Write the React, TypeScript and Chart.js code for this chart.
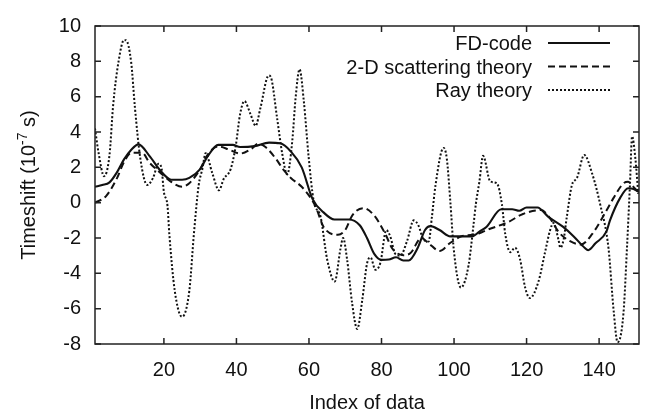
import { useEffect, useRef } from "react";
import { Chart, registerables } from "chart.js";

Chart.register(...registerables);

const FONT = "'Liberation Sans', Arial, Helvetica, sans-serif";
const INK = "#111111";

// FD-code timeshift
const fdIndex = [1, 3, 5, 7, 9, 11, 13, 16, 19, 21, 22, 25, 27, 30, 32, 35, 39, 41, 45, 49, 52, 55, 58, 61, 64, 67, 71, 74, 76, 78, 80, 82, 84, 86, 87.5, 90, 92, 93.5, 96, 99, 105, 107, 109, 113, 116, 118, 120, 123, 126, 130, 133, 136, 137, 139, 142, 143, 145.8, 148, 149.5, 151];
const fdShift = [0.9, 1.0, 1.15, 1.7, 2.45, 3.0, 3.3, 2.65, 1.82, 1.4, 1.3, 1.3, 1.4, 1.9, 2.6, 3.27, 3.27, 3.15, 3.2, 3.4, 3.36, 2.9, 2.0, 0.2, -0.55, -0.95, -0.95, -1.28, -2.0, -2.9, -3.24, -3.22, -3.09, -3.27, -3.27, -2.55, -1.55, -1.33, -1.55, -1.91, -1.91, -1.64, -1.36, -0.37, -0.37, -0.46, -0.27, -0.27, -0.8, -1.36, -1.91, -2.55, -2.69, -2.3, -1.64, -1.0, 0.27, 0.82, 0.78, 0.6];

// 2-D scattering theory timeshift
const scatIndex = [1, 4, 7, 9, 11, 14, 16, 19, 22, 25, 27, 30, 32, 35, 38, 41, 44, 46, 48, 51, 53, 55, 58, 61, 62, 64, 68, 70, 72, 75, 78, 81, 83, 86, 88, 91, 93, 96, 99, 102, 105, 107, 109, 115, 119, 124, 126, 129, 132, 135, 138, 142, 144, 146.7, 148, 149, 151];
const scatShift = [0.0, 0.36, 1.36, 2.3, 2.82, 2.82, 2.27, 1.7, 1.18, 0.9, 1.1, 1.9, 2.7, 3.18, 3.0, 2.78, 3.03, 3.33, 3.15, 2.45, 1.85, 1.4, 0.9, 0.1, -0.3, -1.36, -1.82, -1.55, -0.7, -0.31, -0.73, -1.75, -2.6, -2.97, -2.85, -2.0, -2.3, -2.73, -2.27, -1.91, -1.82, -1.73, -1.55, -1.09, -0.64, -0.42, -0.75, -1.7, -2.18, -2.37, -1.8, -0.46, 0.27, 1.09, 1.18, 1.0, 0.55];

// Ray theory timeshift
const rayIndex = [1, 2, 3.5, 5, 6, 7.5, 9, 9.5, 11, 12, 13.5, 15.4, 17, 18.5, 19.3, 20, 21, 21.5, 23, 25, 27, 28.3, 29.6, 30.6, 31.5, 33.3, 35.2, 36.5, 38.4, 39.8, 41, 42.2, 43.9, 45.3, 46.6, 48.9, 49.5, 51.2, 52.6, 54, 55.4, 56.3, 57.4, 58.6, 59.9, 61.3, 63.2, 65, 67.1, 68.7, 69.4, 70.5, 71.9, 73.3, 74.7, 76, 77, 78.3, 79.7, 81.3, 82.4, 83.8, 85.2, 87, 88.9, 90.2, 91.6, 93, 93.9, 94.9, 97.1, 98, 99, 99.9, 101.9, 104, 105.4, 106, 107, 108, 110, 111.8, 113.2, 114.1, 115.5, 116.8, 118.2, 119.6, 120.9, 123.3, 125.1, 126.5, 127.4, 128.8, 129.3, 130.2, 131.1, 132.5, 133.9, 135.9, 138, 140.3, 142.6, 144, 145.1, 146.7, 147.7, 148.5, 149.1, 150, 150.8];
const rayShift = [4.2, 2.8, 1.5, 2.7, 5.5, 8.0, 9.2, 9.2, 7.9, 5.4, 2.5, 1.0, 1.4, 2.2, 2.0, 0.6, -0.2, -1.8, -5.0, -6.46, -5.0, -1.7, 1.0, 1.9, 2.8, 1.7, 0.7, 1.35, 1.9, 3.2, 5.0, 5.75, 5.0, 4.35, 5.35, 7.2, 7.1, 4.8, 2.8, 1.6, 3.5, 5.9, 7.55, 5.7, 2.6, 0.1, -0.8, -3.2, -4.46, -2.6, -2.0, -3.2, -5.7, -7.15, -5.5, -3.45, -3.1, -3.8, -3.4, -1.55, -1.9, -2.9, -3.0, -2.2, -1.0, -1.3, -2.1, -2.2, -0.8, 1.0, 3.1, 2.5, 0.0, -2.6, -4.8, -3.55, -1.2, -0.1, 1.2, 2.65, 1.2, 1.1, -0.1, -1.75, -2.8, -2.55, -3.2, -4.8, -5.4, -4.45, -2.8, -1.55, -1.15, -2.1, -2.55, -2.1, -0.8, 1.0, 1.4, 2.7, 1.7, -0.1, -2.6, -6.1, -7.9, -6.3, -2.5, 1.0, 3.75, 2.5, 0.5];

const seriesLabels = ["FD-code", "2-D scattering theory", "Ray theory"];
const seriesDash = [[], [7, 4], [2, 2]];
const seriesWidth = [2.1, 2, 2];

const xTickValues = [20, 40, 60, 80, 100, 120, 140];
const xMin = 1;
const xMax = 151;
const yMin = -8;
const yMax = 10;
const yStep = 2;

const xTitle = "Index of data";
const yTitleParts = ["Timeshift (10", "-7", " s)"];

const toPoints = (xs: number[], ys: number[]) => xs.map((x, i) => ({ x, y: ys[i] }));

// Frame with inward ticks on all four sides, plus legend and axis titles.
const decorPlugin = {
  id: "decor",
  afterDraw(chart: any) {
    const { ctx, chartArea: a, scales } = chart;
    ctx.save();
    ctx.strokeStyle = "#222";
    ctx.lineWidth = 1.5;
    ctx.setLineDash([]);
    ctx.strokeRect(a.left, a.top, a.right - a.left, a.bottom - a.top);
    const len = 6;
    ctx.beginPath();
    scales.x.ticks.forEach((t: any) => {
      const px = scales.x.getPixelForValue(t.value);
      ctx.moveTo(px, a.bottom);
      ctx.lineTo(px, a.bottom - len);
      ctx.moveTo(px, a.top);
      ctx.lineTo(px, a.top + len);
    });
    scales.y.ticks.forEach((t: any) => {
      const py = scales.y.getPixelForValue(t.value);
      ctx.moveTo(a.left, py);
      ctx.lineTo(a.left + len, py);
      ctx.moveTo(a.right, py);
      ctx.lineTo(a.right - len, py);
    });
    ctx.stroke();

    // legend: right-aligned labels with line samples on the right
    ctx.font = `20px ${FONT}`;
    ctx.fillStyle = INK;
    ctx.textAlign = "right";
    ctx.textBaseline = "alphabetic";
    const textRight = a.right - 107;
    const sampleL = a.right - 91;
    const sampleR = a.right - 29;
    chart.data.datasets.forEach((ds: any, i: number) => {
      const base = a.top + 24 + i * 23.5;
      ctx.fillText(ds.label, textRight, base);
      ctx.strokeStyle = INK;
      ctx.lineWidth = ds.borderWidth;
      ctx.setLineDash(ds.borderDash);
      ctx.beginPath();
      ctx.moveTo(sampleL, base - 7);
      ctx.lineTo(sampleR, base - 7);
      ctx.stroke();
    });
    ctx.setLineDash([]);

    // x title
    ctx.textAlign = "center";
    ctx.font = `20px ${FONT}`;
    ctx.fillText(xTitle, (a.left + a.right) / 2, 409);

    // y title with superscript exponent
    const big = `20px ${FONT}`;
    const small = `14px ${FONT}`;
    ctx.font = big;
    const w0 = ctx.measureText(yTitleParts[0]).width;
    const w2 = ctx.measureText(yTitleParts[2]).width;
    ctx.font = small;
    const w1 = ctx.measureText(yTitleParts[1]).width;
    const total = w0 + w1 + w2;
    ctx.translate(35, (a.top + a.bottom) / 2);
    ctx.rotate(-Math.PI / 2);
    ctx.textAlign = "left";
    let x = -total / 2;
    ctx.font = big;
    ctx.fillText(yTitleParts[0], x, 0);
    x += w0;
    ctx.font = small;
    ctx.fillText(yTitleParts[1], x, -8);
    x += w1;
    ctx.font = big;
    ctx.fillText(yTitleParts[2], x, 0);
    ctx.restore();
  },
};

export default function App() {
  const canvasRef = useRef<HTMLCanvasElement | null>(null);

  useEffect(() => {
    const canvas = canvasRef.current;
    if (!canvas) return;
    const series = [
      toPoints(fdIndex, fdShift),
      toPoints(scatIndex, scatShift),
      toPoints(rayIndex, rayShift),
    ];
    const chart = new Chart(canvas, {
      type: "line",
      data: {
        datasets: series.map((pts, i) => ({
          label: seriesLabels[i],
          data: pts,
          borderColor: INK,
          borderWidth: seriesWidth[i],
          borderDash: seriesDash[i],
          pointRadius: 0,
          fill: false,
          cubicInterpolationMode: "monotone" as const,
        })),
      },
      options: {
        responsive: false,
        animation: false,
        layout: { padding: { left: 0, top: 15, right: 20, bottom: 0 } },
        plugins: {
          legend: { display: false },
          tooltip: { enabled: false },
          title: { display: false },
        },
        scales: {
          x: {
            type: "linear",
            min: xMin,
            max: xMax,
            grid: { display: false, drawTicks: false },
            border: { display: false },
            afterBuildTicks: (scale: any) => {
              scale.ticks = xTickValues.map((value) => ({ value }));
            },
            afterFit: (scale: any) => {
              scale.height = 76;
            },
            ticks: {
              padding: 14,
              maxRotation: 0,
              color: INK,
              font: { family: FONT, size: 20 },
            },
          },
          y: {
            type: "linear",
            min: yMin,
            max: yMax,
            grid: { display: false, drawTicks: false },
            border: { display: false },
            afterFit: (scale: any) => {
              scale.width = 95;
            },
            ticks: {
              stepSize: yStep,
              padding: 14,
              color: INK,
              font: { family: FONT, size: 20 },
            },
          },
        },
      },
      plugins: [decorPlugin],
    });
    return () => chart.destroy();
  }, []);

  return (
    <div style={{ position: "absolute", left: 0, top: 0, width: 659, height: 420, background: "#fff" }}>
      <canvas ref={canvasRef} width={659} height={420} />
    </div>
  );
}
